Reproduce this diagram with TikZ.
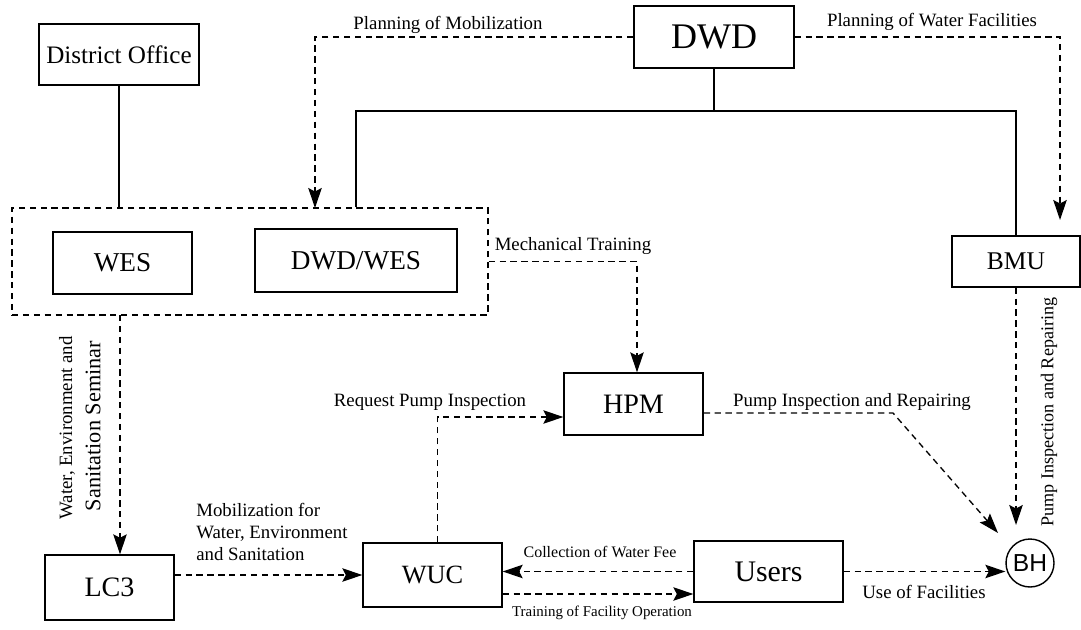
\documentclass[tikz,border=0pt]{standalone}
\usepackage{fontspec}
\setmainfont{Liberation Serif}
\newfontfamily\bhfont{Liberation Sans}
\usetikzlibrary{arrows.meta}
\usetikzlibrary{positioning}
\tikzset{
  unit/.style={draw=black, line width=0.8pt, inner sep=0pt},
  tree/.style={line width=0.9pt},
  link/.style={line width=0.75pt, dash pattern=on 3.6pt off 2.6pt,
    -{Stealth[length=4mm,width=2.7mm,inset=0.7mm]}},
  note/.style={inner sep=0pt, font=\fontsize{10.7}{12.5}\selectfont},
}

\begin{document}
\begin{tikzpicture}[x=0.02cm, y=-0.02cm]
\useasboundingbox (0,0) rectangle (1081,629);
% units
\node[unit, minimum width=3.2cm, minimum height=1.22cm, font=\fontsize{14.3}{16}\selectfont] (office) at (119,54.5) {District Office};
\node[unit, minimum width=3.2cm, minimum height=1.24cm, font=\fontsize{20.5}{22}\selectfont] (dwd) at (714,37) {DWD};
\node[unit, dash pattern=on 3.6pt off 2.6pt, minimum width=9.52cm, minimum height=2.14cm] (team) at (250,261.5) {};
\node[unit, minimum width=2.78cm, minimum height=1.24cm, font=\fontsize{15.5}{17}\selectfont] (wes) at (122.5,263) {WES};
\node[unit, minimum width=4.04cm, minimum height=1.26cm, font=\fontsize{15.5}{17}\selectfont] (dwdwes) at (356,260.5) {DWD/WES};
\node[unit, minimum width=2.56cm, minimum height=1.02cm, font=\fontsize{14.5}{16}\selectfont] (bmu) at (1016,261.5) {BMU};
\node[unit, minimum width=2.78cm, minimum height=1.24cm, font=\fontsize{16}{18}\selectfont] (hpm) at (633.5,404) {HPM};
\node[unit, minimum width=2.58cm, minimum height=1.3cm, font=\fontsize{16}{18}\selectfont] (lc3) at (109.5,587.5) {LC3};
\node[unit, minimum width=2.78cm, minimum height=1.28cm, font=\fontsize{15}{17}\selectfont] (wuc) at (432.5,575) {WUC};
\node[unit, minimum width=2.98cm, minimum height=1.22cm, font=\fontsize{17}{19}\selectfont] (users) at (768.5,571.5) {Users};
\node[draw=black, line width=0.8pt, circle, inner sep=0pt, minimum size=0.96cm, font=\bhfont\fontsize{14}{16}\selectfont] (bh) at (1030,563) {BH};

% solid lines
\coordinate (fork) at (714,111);
\draw[tree] (office.south) -- (office.south |- team.north);
\draw[tree] (dwd.south) -- (fork);
\draw[tree] (team.north -| dwdwes) |- (fork) -| (bmu.north);

% dashed links
\coordinate (mobtip) at (315,208);
\coordinate (factip) at (1060,220);
\coordinate (semtop) at (120,315);
\coordinate (bend) at (893,413);
\coordinate (hpmtip) at (998,533);
\coordinate (bmutip) at (1016,525);
\draw[link] (dwd.west) -| (mobtip);
\draw[link] (dwd.east) -| (factip);
\draw[link] (team.east) -| ([xshift=0.07cm]hpm.north);
\draw[link] (semtop) -- (semtop |- lc3.north);
\draw[link] (lc3.east |- wuc.west) -- (wuc.west);
\draw[link] ([xshift=0.1cm]wuc.north) |- ([yshift=-0.26cm]hpm.west);
\draw[link] (users.west) -- (users.west -| wuc.east);
\draw[link] ([yshift=-0.38cm]wuc.east) -- ([yshift=-0.38cm]wuc.east -| users.west);
\draw[link] (users.east) -- (users.east -| bh.west);
\draw[link] ([yshift=-0.18cm]hpm.east) -- (bend) -- (hpmtip);
\draw[link] (bmu.south) -- (bmutip);

% labels
\node[note] (lmob) at (448,25) {Planning of Mobilization};
\node[note] (lfac) at (932,22) {Planning of Water Facilities};
\node[note] (lmech) at (573,246) {Mechanical Training};
\node[note] (lreq) at (430,402) {Request Pump Inspection};
\node[note] (lrep) at (852,402) {Pump Inspection and Repairing};
\node[note] (luse) at (924,592) {Use of Facilities};
\node[note, font=\fontsize{9.1}{11}\selectfont] (lfee) at (600,552) {Collection of Water Fee};
\node[note, font=\fontsize{8.5}{10}\selectfont] (ltrain) at (602,613) {Training of Facility Operation};
\node[note, anchor=west, align=left] (lwes) at (196,532) {Mobilization for\\Water, Environment\\and Sanitation};
\node[note, rotate=90] (lsem1) at (67,428) {Water, Environment and};
\node[note, rotate=90, font=\fontsize{12.7}{14}\selectfont] (lsem2) at (93,426) {Sanitation Seminar};
\node[note, rotate=90, font=\fontsize{10.3}{12}\selectfont] (lbmu) at (1049,412) {Pump Inspection and Repairing};
\end{tikzpicture}
\end{document}
